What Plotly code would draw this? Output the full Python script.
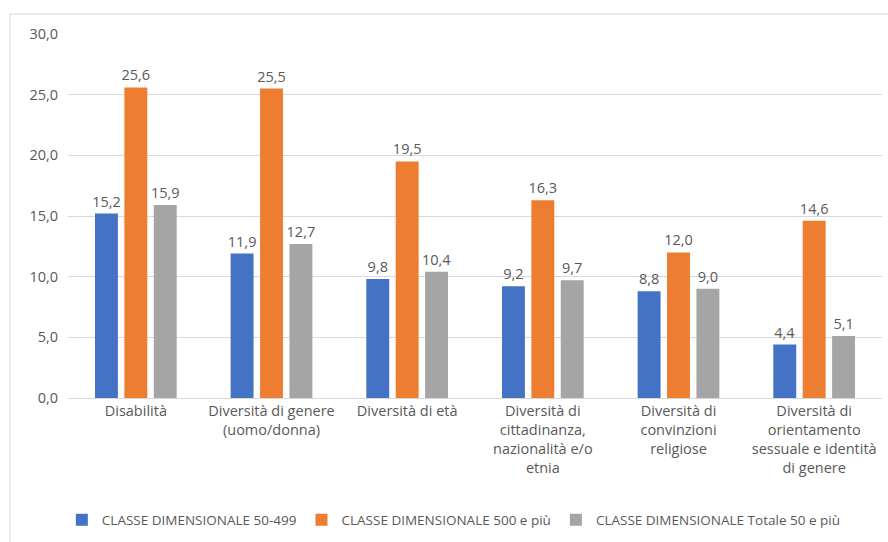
import plotly.graph_objects as go

categories = [
    "Disabilità",
    "Diversità di genere<br>(uomo/donna)",
    "Diversità di età",
    "Diversità di<br>cittadinanza,<br>nazionalità e/o<br>etnia",
    "Diversità di<br>convinzioni<br>religiose",
    "Diversità di<br>orientamento<br>sessuale e identità<br>di genere",
]
series_names = [
    "CLASSE DIMENSIONALE 50-499",
    "CLASSE DIMENSIONALE 500 e più",
    "CLASSE DIMENSIONALE Totale 50 e più",
]
values_50_499 = [15.2, 11.9, 9.8, 9.2, 8.8, 4.4]
values_500_plus = [25.6, 25.5, 19.5, 16.3, 12.0, 14.6]
values_totale = [15.9, 12.7, 10.4, 9.7, 9.0, 5.1]
tick_values = [0, 5, 10, 15, 20, 25, 30]

colors = ["#4472C4", "#ED7D31", "#A5A5A5"]
font_family = "Open Sans, Liberation Sans, sans-serif"
text_color = "#595959"

fig = go.Figure()
for name, vals, col in zip(series_names, [values_50_499, values_500_plus, values_totale], colors):
    fig.add_trace(go.Bar(
        x=categories, y=vals, name=name,
        marker=dict(color=col, line=dict(width=0)),
        texttemplate="%{y:.1f}", textposition="outside",
        textfont=dict(size=14.5, color=text_color, family=font_family),
        constraintext="none",
        cliponaxis=False,
    ))

fig.update_layout(
    width=888, height=542,
    margin=dict(l=68, r=6, t=34, b=144),
    paper_bgcolor="white", plot_bgcolor="white",
    separators=",.",
    barmode="group", bargap=0.35, bargroupgap=0.22,
    font=dict(family=font_family, color=text_color, size=13),
    showlegend=True,
    legend=dict(orientation="h", x=0.474, xanchor="center", y=-0.335, yanchor="middle",
                font=dict(size=13.5, color=text_color), itemwidth=30,
                traceorder="normal"),
    yaxis=dict(range=[0, 30], tickvals=tick_values, tickformat=".1f",
               showgrid=True, gridcolor="#D9D9D9", gridwidth=1,
               zeroline=False, showline=False, ticks="",
               tickfont=dict(size=14.5, color=text_color), ticklabelstandoff=9),
    xaxis=dict(showline=True, linecolor="#D9D9D9", linewidth=1, ticks="",
               tickfont=dict(size=14.5, color=text_color), tickangle=0),
)

fig.add_shape(type="rect", xref="paper", yref="paper",
              x0=-0.0713, x1=1.02, y0=-0.45, y1=1.055,
              line=dict(color="#D9D9D9", width=1), fillcolor="rgba(0,0,0,0)", layer="below")

fig.write_html("out.html")
